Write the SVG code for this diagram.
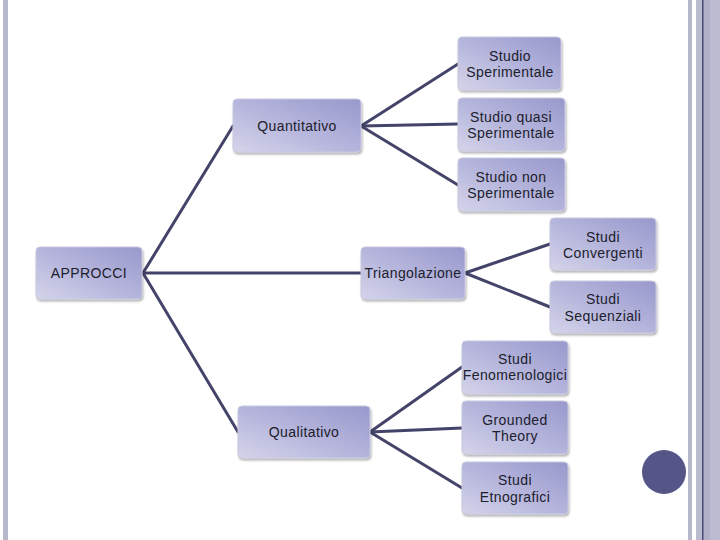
<svg xmlns="http://www.w3.org/2000/svg" width="720" height="540" viewBox="0 0 720 540">
<defs>
<linearGradient id="g" x1="0" y1="1" x2="1" y2="0">
<stop offset="0" stop-color="#d4d4ea"/>
<stop offset="0.5" stop-color="#b4b4dc"/>
<stop offset="1" stop-color="#9898cc"/>
</linearGradient>
<filter id="sh" x="-10%" y="-10%" width="130%" height="130%">
<feGaussianBlur in="SourceAlpha" stdDeviation="1.2"/>
<feOffset dx="1" dy="1.5"/>
<feComponentTransfer><feFuncA type="linear" slope="0.3"/></feComponentTransfer>
<feMerge><feMergeNode/><feMergeNode in="SourceGraphic"/></feMerge>
</filter>
</defs>
<style>
.n{fill:url(#g);stroke:#c8c8e0;stroke-width:1;filter:url(#sh)}
.t{font-family:"Liberation Sans",Arial,sans-serif;font-size:14px;letter-spacing:0.4px;fill:#20202c;text-anchor:middle}
.c{stroke:#44446a;stroke-width:3;fill:none;stroke-linecap:round}
</style>
<rect width="720" height="540" fill="#ffffff"/>
<g id="frame">
<rect x="3" y="0" width="5" height="540" fill="#b8b8cc"/>
<rect x="688" y="0" width="4" height="540" fill="#b8b8cc"/>
<rect x="696" y="0" width="24" height="540" fill="#bcbcd0"/>
<rect x="703" y="0" width="7" height="540" fill="#b0b0c8"/>
<rect x="702" y="0" width="1.5" height="540" fill="#4a4a78"/>
</g>
<g id="connectors">
<line class="c" x1="143" y1="273" x2="361" y2="273"/>
<line class="c" x1="143" y1="273" x2="233" y2="126"/>
<line class="c" x1="143" y1="273" x2="238" y2="432"/>
<line class="c" x1="361" y1="126" x2="458" y2="64"/>
<line class="c" x1="361" y1="126" x2="458" y2="124"/>
<line class="c" x1="361" y1="126" x2="458" y2="185"/>
<line class="c" x1="465" y1="273" x2="550" y2="244"/>
<line class="c" x1="465" y1="273" x2="550" y2="307"/>
<line class="c" x1="370" y1="432" x2="462" y2="367"/>
<line class="c" x1="370" y1="432" x2="462" y2="428"/>
<line class="c" x1="370" y1="432" x2="462" y2="488"/>
</g>
<g id="approcci"><rect class="n" x="36" y="247" width="106" height="52" rx="4"/><text class="t" x="89" y="278">APPROCCI</text></g>
<g id="quantitativo"><rect class="n" x="233" y="99" width="128" height="53" rx="4"/><text class="t" x="297" y="131">Quantitativo</text></g>
<g id="qualitativo"><rect class="n" x="238" y="406" width="132" height="52" rx="4"/><text class="t" x="304" y="437">Qualitativo</text></g>
<g id="triangolazione"><rect class="n" x="361" y="247" width="104" height="52" rx="4"/><text class="t" x="413" y="278">Triangolazione</text></g>
<g id="sperimentale"><rect class="n" x="458" y="37" width="103" height="53" rx="4"/><text class="t" x="510" y="61">Studio</text><text class="t" x="510" y="77">Sperimentale</text></g>
<g id="quasi"><rect class="n" x="458" y="98" width="107" height="53" rx="4"/><text class="t" x="511" y="122">Studio quasi</text><text class="t" x="511" y="138">Sperimentale</text></g>
<g id="non"><rect class="n" x="458" y="158" width="107" height="53" rx="4"/><text class="t" x="511" y="182">Studio non</text><text class="t" x="511" y="198">Sperimentale</text></g>
<g id="convergenti"><rect class="n" x="550" y="218" width="106" height="52" rx="4"/><text class="t" x="603" y="242">Studi</text><text class="t" x="603" y="258">Convergenti</text></g>
<g id="sequenziali"><rect class="n" x="550" y="281" width="106" height="52" rx="4"/><text class="t" x="603" y="304">Studi</text><text class="t" x="603" y="321">Sequenziali</text></g>
<g id="fenomenologici"><rect class="n" x="462" y="341" width="106" height="53" rx="4"/><text class="t" x="515" y="364">Studi</text><text class="t" x="515" y="380">Fenomenologici</text></g>
<g id="grounded"><rect class="n" x="462" y="401" width="106" height="53" rx="4"/><text class="t" x="515" y="425">Grounded</text><text class="t" x="515" y="441">Theory</text></g>
<g id="etnografici"><rect class="n" x="462" y="462" width="106" height="52" rx="4"/><text class="t" x="515" y="485">Studi</text><text class="t" x="515" y="502">Etnografici</text></g>
<circle id="dot" cx="664" cy="472" r="22" fill="#555588"/>
</svg>
